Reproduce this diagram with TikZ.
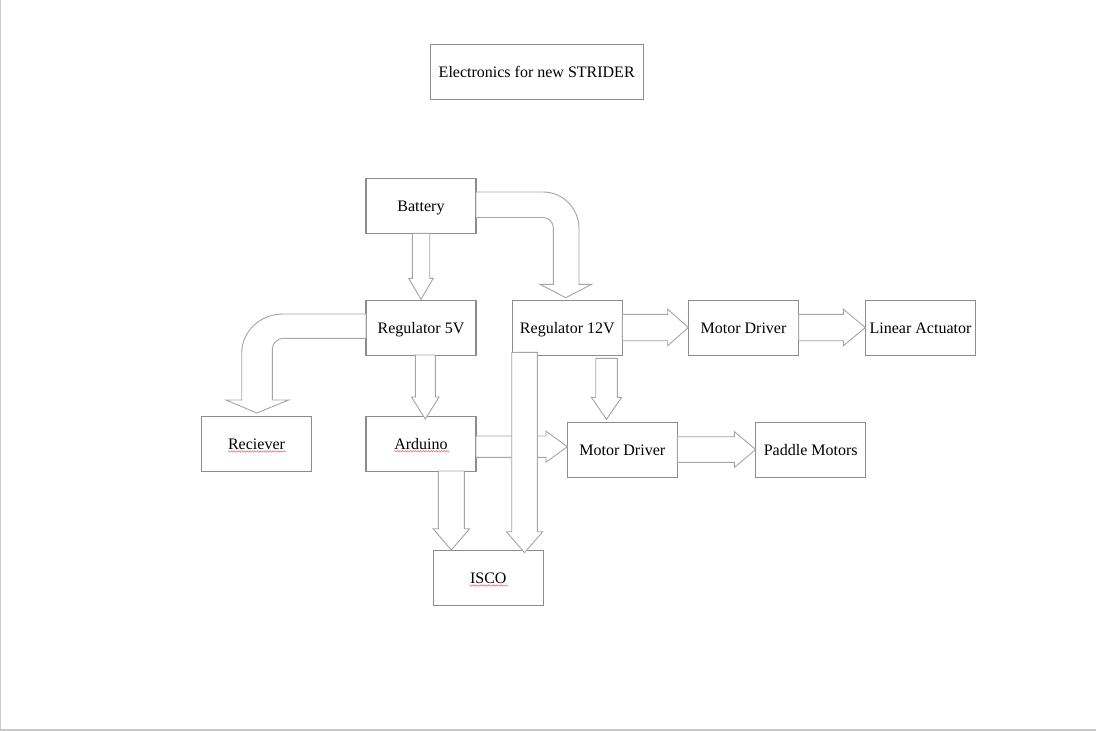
\documentclass[tikz,border=0pt]{standalone}
\usepackage{fontspec}
\setmainfont{Liberation Serif}
\usetikzlibrary{decorations.pathmorphing}
\definecolor{boxcol}{RGB}{140,140,140}
\definecolor{arrcol}{RGB}{165,165,165}
\definecolor{bordercol}{RGB}{200,200,200}
\definecolor{spellcol}{RGB}{235,120,120}
\newcommand\dnblockarrow[6]{%
  \draw[barrow] (#1-#5,#2) -- (#1-#5,#3) -- (#1-#6,#3) -- (#1,#4) -- (#1+#6,#3) -- (#1+#5,#3) -- (#1+#5,#2) -- cycle;}
\newcommand\rtblockarrow[6]{%
  \draw[barrow] (#2,#1-#5) -- (#3,#1-#5) -- (#3,#1-#6) -- (#4,#1) -- (#3,#1+#6) -- (#3,#1+#5) -- (#2,#1+#5) -- cycle;}
\begin{document}
\begin{tikzpicture}[x=1pt,y=-1pt,
  every node/.style={font=\fontsize{16}{19}\selectfont},
  blk/.style={draw=boxcol, line width=1.1pt, fill=white, minimum width=110pt, minimum height=55pt, inner sep=0pt, text height=11pt, text depth=0pt},
  barrow/.style={draw=arrcol, line width=0.9pt, fill=white, line join=miter},
  spell/.style={draw=spellcol, line width=0.6pt, decorate, decoration={snake, amplitude=0.7pt, segment length=2.6pt}}]
\useasboundingbox (0,0) rectangle (1096,731);
\fill[white] (0,0) rectangle (1096,731);
\draw[bordercol, line width=1pt] (0.5,0) -- (0.5,730);
\draw[bordercol, line width=1.5pt] (0,730) -- (1096,730);

% boxes
\node[blk, minimum width=213pt] (title) at (536.7,71.7) {Electronics for new STRIDER};
\node[blk] (bat)   at (421,205.8)   {Battery};
\node[blk] (reg5)  at (421,327.8)   {Regulator 5V};
\node[blk] (reg12) at (567.3,327.8) {Regulator 12V};
\node[blk] (rec)   at (256.5,443.8) {Reciever};
\node[blk] (ard)   at (421,443.6)   {Arduino};
\node[blk] (mdb)   at (622.3,449.7) {Motor Driver};
\node[blk] (isco)  at (488.3,578)   {ISCO};
\node[blk] (mda)   at (743.5,327.8) {Motor Driver};
\node[blk] (lin)   at (920.5,327.8) {Linear Actuator};
\node[blk] (pad)   at (810.7,449.8) {Paddle Motors};

% spell-check underlines
\draw[spell] (228,451.5) -- (285.5,451.5);
\draw[spell] (394,451.2) -- (449,451.2);
\draw[spell] (469.5,585.5) -- (507.5,585.5);

% straight block arrows
\dnblockarrow{421}{233.3}{278.3}{299.3}{8.7}{12.3}     % bat -> reg5
\dnblockarrow{425.3}{355}{397}{419}{10}{13.8}          % reg5 -> ard
\dnblockarrow{606.5}{358.3}{397.3}{419.3}{10.8}{15.2}  % reg12 -> mdb
\rtblockarrow{327.5}{622.3}{667.7}{688.3}{13.2}{18.3}  % reg12 -> mda
\rtblockarrow{327.5}{798.7}{843.3}{865.3}{13.2}{18.3}  % mda -> lin
\rtblockarrow{449.5}{677.3}{734.3}{755.7}{12.8}{18}    % mdb -> pad
\rtblockarrow{446.7}{476}{546}{567.3}{10.7}{15.5}      % ard -> mdb
\dnblockarrow{451.3}{471}{528.7}{550}{13}{18.3}        % ard -> isco
\dnblockarrow{524.5}{352.3}{531.7}{552.7}{12.8}{18.2}  % reg12 -> isco

% curved: battery -> regulator 12V
\draw[barrow] (476,192) -- (543,192) .. controls (562.9,192) and (579,208.3) .. (579,228.5)
  -- (579,284.3) -- (591.7,284.3) -- (565.7,297.7) -- (540,284.3) -- (553.3,284.3)
  -- (553.3,228) .. controls (553.3,222.2) and (548.7,217.5) .. (543,217.5) -- (476,217.5) -- cycle;

% curved: regulator 5V -> reciever
\draw[barrow] (366,314) -- (283,314) .. controls (260.2,314) and (241.7,331.5) .. (241.7,353)
  -- (241.7,400) -- (226,400) -- (256.7,413) -- (288.7,400) -- (272.3,400)
  -- (272.3,349.5) .. controls (272.3,343.3) and (277.3,338.3) .. (283.5,338.3) -- (366,338.3) -- cycle;
\end{tikzpicture}
\end{document}
